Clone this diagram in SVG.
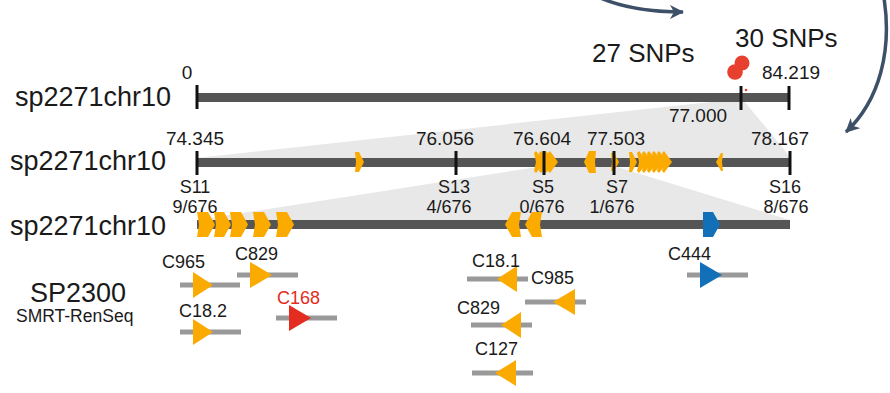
<svg xmlns="http://www.w3.org/2000/svg" width="890" height="393" viewBox="0 0 890 393">
<defs>
<style>
text{font-family:"Liberation Sans",Arial,sans-serif;fill:#1a1a1a}
.chr{font-size:27px}
.num{font-size:19px;text-anchor:middle}
.sm{font-size:18px;text-anchor:middle}
.snp{font-size:26px}
.cl{font-size:18px}
.bar{fill:#555555}
.tick{stroke:#111111;stroke-width:3}
.zoom{fill:#e8e8e8}
.og{fill:#fbaa00}
.bl{fill:#1270b8}
.red{fill:#e42d20}
.cline{stroke:#999999;stroke-width:5}
.curve{fill:none;stroke:#3d5068;stroke-width:3.5}
</style>
<marker id="ah" markerWidth="16" markerHeight="14" refX="13" refY="7" orient="auto" markerUnits="userSpaceOnUse">
<path d="M0,0 L14,7 L0,14 L4,7 Z" fill="#3d5068"/>
</marker>
</defs>

<g id="connectors">
<path class="curve" d="M596 -4 Q630 12 683 12" marker-end="url(#ah)"/>
<path class="curve" d="M884 -2 C892 50 880 100 846 132" marker-end="url(#ah)"/>
<polygon class="zoom" points="720,101 744,101 791,158 197,158"/>
<polygon class="zoom" points="544,166 614,166 790,220 197,220"/>
</g>

<g id="chr1">
<text class="chr" x="15" y="106">sp2271chr10</text>
<rect class="bar" x="197" y="93" width="592" height="9"/>
<line class="tick" x1="197" y1="85" x2="197" y2="109"/>
<line class="tick" x1="741" y1="86" x2="741" y2="110"/>
<line class="tick" x1="789" y1="86" x2="789" y2="110"/>
<text class="num" x="187" y="79">0</text>
<text class="num" x="791" y="79">84.219</text>
<text class="num" x="698" y="122">77.000</text>
<circle cx="742" cy="63" r="7.5" fill="#e8402f"/>
<circle cx="735" cy="72" r="7.8" fill="#e8402f"/>
<circle cx="746" cy="90" r="1.3" fill="#e8402f"/>
<text class="snp" x="592" y="62">27 SNPs</text>
<text class="snp" x="735" y="47">30 SNPs</text>
</g>

<g id="chr2">
<text class="chr" x="10" y="170">sp2271chr10</text>
<rect class="bar" x="197" y="158" width="593" height="9"/>
<g class="og">
<polygon points="355,152 359,152 364,162 359,172 355,172 356,162"/>
<polygon points="534,153 536,151 545,162 536,173 534,171 536,162"/>
<polygon points="539,153 541,151 550,162 541,173 539,171 541,162"/>
<polygon points="544,153 546,151 555,162 546,173 544,171 546,162"/>
<polygon points="548,153 550,151 558,162 550,173 548,171 550,162"/>
<polygon points="594,151 589,151 584,162 589,173 594,173 593,162"/>
<polygon points="596,151 592,151 587,162 592,173 596,173 595,162"/>
<polygon points="611,153 614,153 619,162 614,171 611,171 612,162"/>
<polygon points="629,152 632,152 637,162 632,172 629,172 630,162"/>
<polygon points="637,153 639,151 648,162 639,173 637,171 639,162"/>
<polygon points="642,153 644,151 653,162 644,173 642,171 644,162"/>
<polygon points="647,153 649,151 658,162 649,173 647,171 649,162"/>
<polygon points="652,153 654,151 663,162 654,173 652,171 654,162"/>
<polygon points="657,153 659,151 668,162 659,173 657,171 659,162"/>
<polygon points="662,153 664,151 672,162 664,173 662,171 664,162"/>
<polygon points="723,153 721,153 716,162 721,171 723,171 722,162"/>
</g>
<line class="tick" x1="197" y1="151" x2="197" y2="175"/>
<line class="tick" x1="456" y1="151" x2="456" y2="175"/>
<line class="tick" x1="544" y1="151" x2="544" y2="175"/>
<line class="tick" x1="614" y1="151" x2="614" y2="175"/>
<line class="tick" x1="790" y1="151" x2="790" y2="175"/>
<text class="num" x="195" y="145">74.345</text>
<text class="num" x="445" y="145">76.056</text>
<text class="num" x="542" y="145">76.604</text>
<text class="num" x="616" y="145">77.503</text>
<text class="num" x="780" y="145">78.167</text>
<text class="sm" x="195" y="193">S11</text>
<text class="sm" x="195" y="213">9/676</text>
<text class="sm" x="454" y="193">S13</text>
<text class="sm" x="449" y="213">4/676</text>
<text class="sm" x="543" y="193">S5</text>
<text class="sm" x="542" y="213">0/676</text>
<text class="sm" x="617" y="193">S7</text>
<text class="sm" x="612" y="213">1/676</text>
<text class="sm" x="785" y="193">S16</text>
<text class="sm" x="786" y="213">8/676</text>
</g>

<g id="chr3">
<text class="chr" x="10" y="235">sp2271chr10</text>
<rect class="bar" x="197" y="220" width="593" height="9"/>
<g class="og">
<polygon points="197,212 208,212 215,224.5 208,237 197,237 199,224.5"/>
<polygon points="214,212 224,212 231,224.5 224,237 214,237 216,224.5"/>
<polygon points="230,212 241,212 248,224.5 241,237 230,237 232,224.5"/>
<polygon points="253,212 264,212 271,224.5 264,237 253,237 255,224.5"/>
<polygon points="276,212 287,212 294,224.5 287,237 276,237 278,224.5"/>
<polygon points="521,212 512,212 505,224.5 512,237 521,237 519,224.5"/>
<polygon points="542,212 532,212 525,224.5 532,237 542,237 540,224.5"/>
</g>
<polygon class="bl" points="703,212 713,212 720,224.5 713,237 703,237"/>
</g>

<g id="sp2300">
<text x="30" y="302" style="font-size:27px">SP2300</text>
<text x="16" y="322" style="font-size:17.5px">SMRT-RenSeq</text>
</g>

<g id="c965">
<line class="cline" x1="180" y1="285" x2="240" y2="285"/>
<polygon class="og" points="193,272 213,285 193,298"/>
<text class="cl" x="162" y="268">C965</text>
</g>
<g id="c829a">
<line class="cline" x1="237" y1="275" x2="298" y2="275"/>
<polygon class="og" points="250,262 272,275 250,288"/>
<text class="cl" x="235" y="260">C829</text>
</g>
<g id="c18-2">
<line class="cline" x1="180" y1="332" x2="241" y2="332"/>
<polygon class="og" points="193,319 213,332 193,345"/>
<text class="cl" x="179" y="317">C18.2</text>
</g>
<g id="c168">
<line class="cline" x1="276" y1="318" x2="337" y2="318"/>
<polygon class="red" points="289,305 311,318 289,331"/>
<text class="cl" x="277" y="304" style="fill:#e42d20">C168</text>
</g>
<g id="c18-1">
<line class="cline" x1="467" y1="279" x2="528" y2="279"/>
<polygon class="og" points="517,266 497,279 517,292"/>
<text class="cl" x="472" y="267">C18.1</text>
</g>
<g id="c985">
<line class="cline" x1="525" y1="302" x2="586" y2="302"/>
<polygon class="og" points="575,289 553,302 575,315"/>
<text class="cl" x="531" y="284">C985</text>
</g>
<g id="c829b">
<line class="cline" x1="471" y1="325" x2="532" y2="325"/>
<polygon class="og" points="521,312 501,325 521,338"/>
<text class="cl" x="457" y="314">C829</text>
</g>
<g id="c127">
<line class="cline" x1="472" y1="373" x2="533" y2="373"/>
<polygon class="og" points="516,360 495,373 516,386"/>
<text class="cl" x="475" y="355">C127</text>
</g>
<g id="c444">
<line class="cline" x1="687" y1="275" x2="748" y2="275"/>
<polygon class="bl" points="700,262 722,275 700,288"/>
<text class="cl" x="668" y="260">C444</text>
</g>
</svg>
